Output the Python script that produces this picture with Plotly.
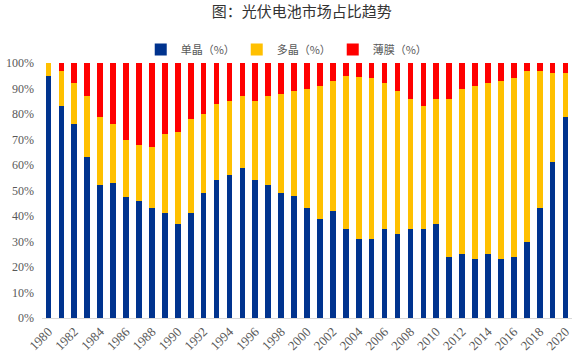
import plotly.graph_objects as go

years = list(range(1980, 2021))
mono = [95, 83, 76, 63, 52, 53, 47.5, 46, 43, 41, 37, 41, 49, 54, 56, 59, 54, 52, 49, 48,
        43, 39, 42, 35, 31, 31, 35, 33, 35, 35, 37, 24, 25, 23, 25, 23, 24, 30, 43, 61, 79]
top = [100, 97, 92, 87, 79, 76, 70, 68, 67, 72, 73, 78, 80, 84, 85, 87, 85, 87, 88, 89,
       90, 91, 93, 95, 94.5, 94, 92, 89, 86, 83, 86, 86, 90, 91, 92, 93, 94, 97, 97, 96, 96]
poly = [t - m for t, m in zip(top, mono)]
thin = [100 - t for t in top]
tick_years = list(range(1980, 2021, 2))
tick_pct = list(range(0, 101, 10))

names = ["单晶（%）", "多晶（%）", "薄膜（%）"]
colors = ["#00338E", "#FFC000", "#FF0000"]

fig = go.Figure()
for name, vals, col in zip(names, [mono, poly, thin], colors):
    fig.add_trace(go.Bar(x=years, y=vals, name=name, marker=dict(color=col, line=dict(width=0))))

fig.update_layout(
    width=579, height=359,
    barmode="stack", bargap=0.56,
    plot_bgcolor="white", paper_bgcolor="white",
    margin=dict(l=42, r=7, t=63, b=41, autoexpand=False),
    title=dict(text="图：光伏电池市场占比趋势", x=0.521, xanchor="center", y=0.968, yanchor="middle",
               font=dict(family="Noto Sans CJK SC", size=15, color="#333333")),
    legend=dict(orientation="h", x=0.458, xanchor="center", y=1.053, yanchor="middle",
                font=dict(family="Noto Sans CJK SC", size=11, color="#595959"),
                traceorder="normal", itemwidth=30, entrywidth=51, bgcolor="rgba(0,0,0,0)"),
    showlegend=True,
)
fig.update_xaxes(range=[1979.5, 2020.5], tickvals=tick_years, ticktext=[str(y) for y in tick_years],
                 tickangle=-45, showgrid=False, showline=True, linecolor="#D9D9D9", linewidth=1,
                 ticks="", automargin=False,
                 tickfont=dict(family="Liberation Serif", size=13, color="#595959"))
fig.update_yaxes(range=[0, 100], tickvals=tick_pct, ticktext=[f"{v}%" for v in tick_pct],
                 showgrid=False, zeroline=False, showline=False, ticks="", automargin=False,
                 ticklabelstandoff=7,
                 tickfont=dict(family="Liberation Serif", size=12, color="#595959"))

fig.write_html("out.html", config={"displayModeBar": False},
               post_script="document.body.style.margin='0px';")
